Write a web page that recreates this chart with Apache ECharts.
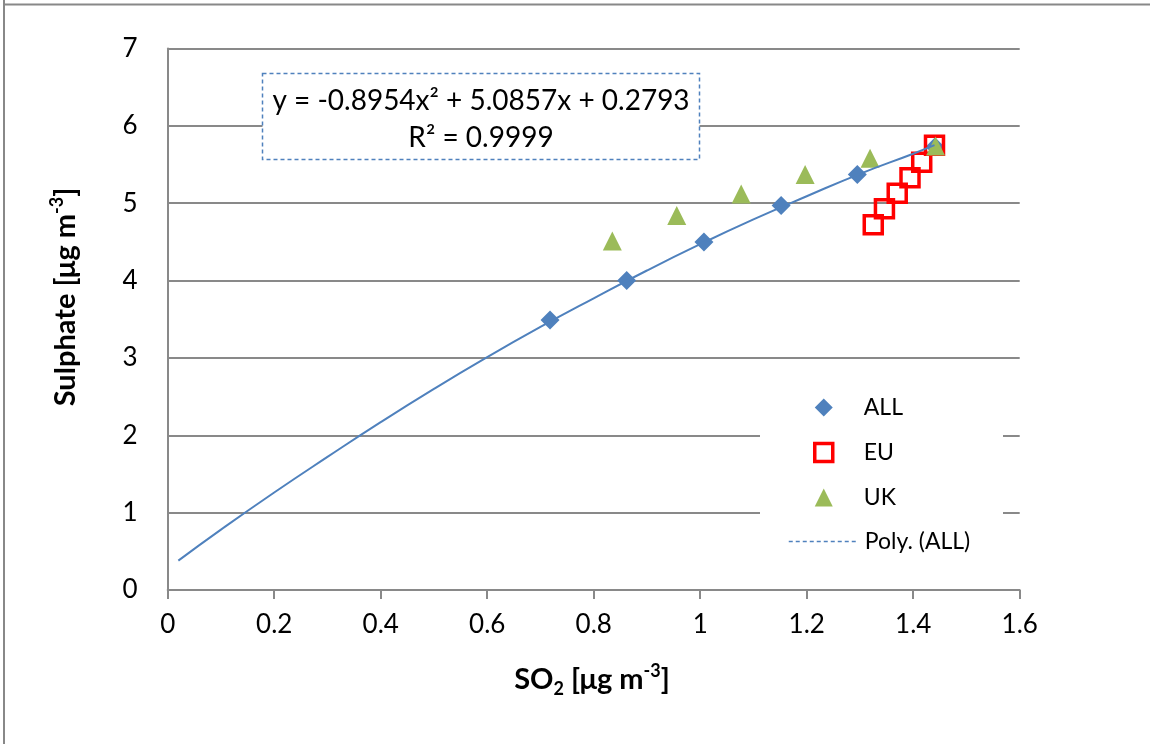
<!DOCTYPE html>
<html><head><meta charset="utf-8">
<script src="https://cdn.jsdelivr.net/npm/echarts@6/dist/echarts.min.js"></script>
<style>html,body{margin:0;padding:0;background:#fff}#c{width:1150px;height:744px}</style>
</head><body><div id="c"></div>
<script>
// Data
const ALL_X = [0.718, 0.862, 1.007, 1.152, 1.295, 1.441];
const ALL_Y = [3.49, 4.00, 4.50, 4.97, 5.37, 5.73];
const EU_X = [1.325, 1.346, 1.370, 1.394, 1.416, 1.440];
const EU_Y = [4.72, 4.93, 5.13, 5.33, 5.53, 5.75];
const UK_X = [0.835, 0.956, 1.077, 1.197, 1.319, 1.442];
const UK_Y = [4.51, 4.84, 5.12, 5.37, 5.58, 5.74];
// Points along the drawn trendline
const TREND_X = [0.02, 0.1, 0.2, 0.3, 0.4, 0.5, 0.6, 0.7, 0.8, 0.9, 1.0, 1.1, 1.2, 1.3, 1.4, 1.44];
const TREND_Y = [0.38, 0.78, 1.26, 1.72, 2.17, 2.60, 3.01, 3.40, 3.77, 4.13, 4.47, 4.79, 5.09, 5.38, 5.64, 5.75];
const SERIES_NAMES = ['ALL', 'EU', 'UK', 'Poly. (ALL)'];
const EQ_LINE1 = 'y = -0.8954x² + 5.0857x + 0.2793';
const EQ_LINE2 = 'R² = 0.9999';

const zip = (xs, ys) => xs.map((x, i) => [x, ys[i]]);
const FONT = 'Lato';
const GRID_COLOR = '#898989';
const LEGEND_TEXT = {fontSize: 23, color: '#000', fontFamily: FONT, lineHeight: 18};

const chart = echarts.init(document.getElementById('c'), null, {renderer: 'canvas'});
chart.setOption({
  animation: false,
  backgroundColor: '#fff',
  textStyle: {fontFamily: FONT},
  grid: {left: 167.7, right: 130.3, top: 48.5, bottom: 154, containLabel: false},
  xAxis: {
    type: 'value', min: 0, max: 1.6, interval: 0.2,
    axisLine: {show: true, onZero: false, lineStyle: {color: GRID_COLOR, width: 2}},
    axisTick: {show: true, inside: false, length: 9, lineStyle: {color: GRID_COLOR, width: 2}},
    splitLine: {show: false},
    axisLabel: {color: '#000', fontSize: 26, fontFamily: FONT, margin: 22}
  },
  yAxis: {
    type: 'value', min: 0, max: 7, interval: 1,
    axisLine: {show: true, onZero: false, lineStyle: {color: GRID_COLOR, width: 2}},
    axisTick: {show: false},
    splitLine: {show: true, lineStyle: {color: GRID_COLOR, width: 2}},
    axisLabel: {color: '#000', fontSize: 26, fontFamily: FONT, margin: 30}
  },
  legend: [
    {
      orient: 'vertical', left: 813, top: 396, padding: 0,
      itemWidth: 18, itemHeight: 18, itemGap: 22,
      textStyle: Object.assign({padding: [0, 0, 0, 26]}, LEGEND_TEXT),
      data: [
        {name: SERIES_NAMES[0], icon: 'diamond'},
        {name: SERIES_NAMES[1], icon: 'rect',
          itemStyle: {color: '#fff', borderColor: '#FF0000', borderWidth: 3.5}},
        {name: SERIES_NAMES[2], icon: 'triangle'}
      ],
      z: 10
    },
    {
      orient: 'vertical', left: 788, top: 530, padding: 0,
      itemWidth: 67, itemHeight: 18,
      textStyle: Object.assign({padding: [0, 0, 0, 4]}, LEGEND_TEXT),
      data: [
        {name: SERIES_NAMES[3], itemStyle: {opacity: 0},
          lineStyle: {type: [4, 3], width: 1.5, color: '#4F81BD'}}
      ],
      z: 10
    }
  ],
  series: [
    {
      name: SERIES_NAMES[0], type: 'scatter', data: zip(ALL_X, ALL_Y),
      symbol: 'diamond', symbolSize: 19,
      itemStyle: {color: '#4F81BD', opacity: 1}, z: 3
    },
    {
      name: SERIES_NAMES[1], type: 'scatter', data: zip(EU_X, EU_Y),
      symbol: 'rect', symbolSize: 18,
      itemStyle: {color: 'rgba(255,255,255,0)', borderColor: '#FF0000', borderWidth: 3.5, opacity: 1}, z: 4
    },
    {
      name: SERIES_NAMES[2], type: 'scatter', data: zip(UK_X, UK_Y),
      symbol: 'triangle', symbolSize: 19,
      itemStyle: {color: '#9BBB59', opacity: 1}, z: 5
    },
    {
      name: SERIES_NAMES[3], type: 'line', data: zip(TREND_X, TREND_Y),
      smooth: true, symbol: 'none', showSymbol: false,
      lineStyle: {color: '#4F81BD', width: 2}, itemStyle: {color: '#4F81BD'}, z: 6
    }
  ],
  graphic: [
    {type: 'rect', shape: {x: 760, y: 384, width: 243, height: 178}, z: 1, silent: true,
      style: {fill: '#fff'}},
    {type: 'line', shape: {x1: 4, y1: 0, x2: 4, y2: 744}, style: {stroke: '#888', lineWidth: 2}, z: 100},
    {type: 'line', shape: {x1: 4, y1: 4.5, x2: 1150, y2: 4.5}, style: {stroke: '#888', lineWidth: 2}, z: 100},
    {type: 'rect', shape: {x: 262.5, y: 73.5, width: 437, height: 86}, z: 50,
      style: {fill: '#fff', stroke: '#4F81BD', lineWidth: 1.5, lineDash: [4, 3]}},
    {type: 'text', x: 481, y: 101, z: 51,
      style: {text: EQ_LINE1, font: '28px ' + FONT, fill: '#000', textAlign: 'center', textVerticalAlign: 'middle'}},
    {type: 'text', x: 481, y: 138, z: 51,
      style: {text: EQ_LINE2, font: '28px ' + FONT, fill: '#000', textAlign: 'center', textVerticalAlign: 'middle'}},
    {type: 'text', x: 592, y: 680, z: 51,
      style: {
        text: '{b|SO}{sub|2}{b| [μg m}{sup|-3}{b|]}',
        textAlign: 'center', textVerticalAlign: 'middle',
        rich: {
          b: {font: 'bold 29px ' + FONT, fill: '#000', lineHeight: 36, verticalAlign: 'middle'},
          sub: {font: 'bold 18px ' + FONT, fill: '#000', lineHeight: 36, verticalAlign: 'bottom'},
          sup: {font: 'bold 18px ' + FONT, fill: '#000', lineHeight: 36, verticalAlign: 'top'}
        }
      }},
    {type: 'text', x: 66, y: 297, rotation: Math.PI / 2, z: 51,
      style: {
        text: '{b|Sulphate [μg m}{sup|-3}{b|]}',
        textAlign: 'center', textVerticalAlign: 'middle',
        rich: {
          b: {font: 'bold 29px ' + FONT, fill: '#000', lineHeight: 36, verticalAlign: 'middle'},
          sup: {font: 'bold 18px ' + FONT, fill: '#000', lineHeight: 36, verticalAlign: 'top'}
        }
      }}
  ]
});
</script>
</body></html>
